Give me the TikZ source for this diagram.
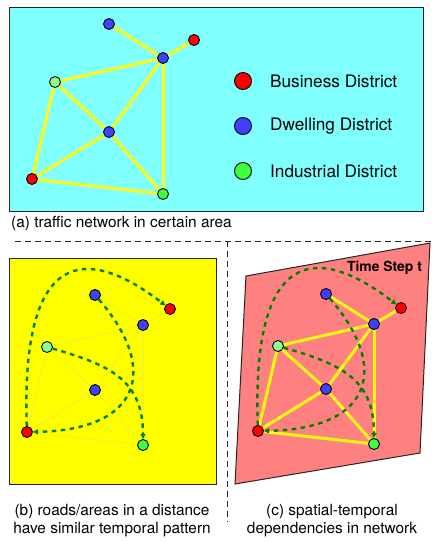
\documentclass[tikz,border=0pt]{standalone}
\usepackage{fontspec}
\setmainfont{TeX Gyre Heros}
\usetikzlibrary{arrows.meta}
\definecolor{busred}{RGB}{255,0,0}
\definecolor{dwellblue}{RGB}{64,64,255}
\definecolor{indgreen}{RGB}{64,255,64}
\definecolor{palegreen}{RGB}{140,255,140}
\definecolor{areacyan}{RGB}{128,255,255}
\definecolor{areayellow}{RGB}{255,255,0}
\definecolor{areapink}{RGB}{255,128,128}
\definecolor{roadyellow}{RGB}{255,248,20}
\definecolor{faintyellow}{RGB}{244,242,40}
\definecolor{depgreen}{RGB}{0,128,0}
\tikzset{
district/.style={circle, draw=black, line width=0.9pt, minimum size=11pt, inner sep=0pt}, % every district node
business/.style={district, fill=busred},
dwelling/.style={district, fill=dwellblue},
industrial/.style={district, fill=indgreen},
industrial2/.style={district, fill=palegreen},
keydot/.style={minimum size=17pt},
road/.style={draw=roadyellow, line width=3pt},
faintroad/.style={draw=faintyellow, line width=1.2pt},
depend/.style={draw=depgreen, line width=2.4pt, dash pattern=on 4.5pt off 4.5pt, -{Triangle[length=5pt,width=5pt]}},
panel/.style={draw=black!85, line width=1pt},
divider/.style={draw=black!85, line width=1pt, dash pattern=on 6pt off 4pt},
caption/.style={font=\fontsize{15.4}{18}\selectfont, inner sep=0pt},
keytext/.style={font=\fontsize{17.2}{20}\selectfont, inner sep=0pt, anchor=west},
}

\begin{document}
\begin{tikzpicture}[x=1pt, y=-1pt]
        \useasboundingbox (0,0) rectangle (434,542);
        % (a) traffic network
        \draw[panel, fill=areacyan] (9,7) rectangle (423,211);
        \node[dwelling]    (a_1) at (109,24)  {};
        \node[business]    (a_2) at (194,40)  {};
        \node[dwelling]    (a_3) at (163,58)  {};
        \node[industrial2] (a_4) at (55,82)   {};
        \node[dwelling]    (a_5) at (109,132) {};
        \node[business]    (a_6) at (32,179)  {};
        \node[industrial]  (a_7) at (163,194) {};
        \path[road]
        (a_1) edge (a_3)
        (a_2) edge (a_3)
        (a_3) edge (a_4)
        (a_3) edge (a_5)
        (a_3) edge (a_7)
        (a_4) edge (a_5)
        (a_4) edge (a_6)
        (a_5) edge (a_6)
        (a_5) edge (a_7)
        (a_6) edge (a_7);
        \node[business, keydot]   (key_1) at (243,81)  {};
        \node[dwelling, keydot]   (key_2) at (243,126) {};
        \node[industrial, keydot] (key_3) at (243,171) {};
        \node[keytext] (keytext_1) at (270,81)  {Business District};
        \node[keytext] (keytext_2) at (270,126) {Dwelling District};
        \node[keytext] (keytext_3) at (270,171) {Industrial District};
        \node[caption, anchor=west] (cap_a) at (11,223) {(a) traffic network in certain area};
        % dividers
        \draw[divider] (15,241) -- (434,241);
        \draw[divider] (227,241) -- (227,522);
        % (b) temporal pattern
        \draw[panel, fill=areayellow] (9,258) rectangle (216,484);
        \node[dwelling]    (b_1) at (95,295)  {};
        \node[business]    (b_2) at (170,309) {};
        \node[dwelling]    (b_3) at (143,325) {};
        \node[industrial2] (b_4) at (47,347)  {};
        \node[dwelling]    (b_5) at (95,390)  {};
        \node[business]    (b_6) at (27,432)  {};
        \node[industrial]  (b_7) at (143,445) {};
        \path[faintroad]
        (b_1) edge (b_3)
        (b_2) edge (b_3)
        (b_3) edge (b_4)
        (b_3) edge (b_5)
        (b_3) edge (b_7)
        (b_4) edge (b_5)
        (b_4) edge (b_6)
        (b_5) edge (b_6)
        (b_5) edge (b_7)
        (b_6) edge (b_7);
        \draw[depend] (b_6) .. controls (20,230) and (100,255) .. (b_2);
        \draw[depend] (b_1) .. controls (160,370) and (140,430) .. (b_6);
        \draw[depend] (b_4) .. controls (110,365) and (143,380) .. (b_7);
        \node[caption, align=center] (cap_b) at (112,521) {(b) roads/areas in a distance\\have similar temporal pattern};
        % (c) spatial-temporal dependencies
        \draw[panel, fill=areapink] (246,276) -- (430,243) -- (420,453) -- (235,484) -- cycle;
        \node[font=\bfseries\fontsize{13.9}{16}\selectfont, inner sep=0pt] (step_t) at (384.5,268) {Time Step t};
        \begin{scope}[shift={(231,-1)}]
        \node[dwelling]    (c_1) at (95,295)  {};
        \node[business]    (c_2) at (170,309) {};
        \node[dwelling]    (c_3) at (143,325) {};
        \node[industrial2] (c_4) at (47,347)  {};
        \node[dwelling]    (c_5) at (95,390)  {};
        \node[business]    (c_6) at (27,432)  {};
        \node[industrial]  (c_7) at (143,445) {};
        \path[road]
        (c_1) edge (c_3)
        (c_2) edge (c_3)
        (c_3) edge (c_4)
        (c_3) edge (c_5)
        (c_3) edge (c_7)
        (c_4) edge (c_5)
        (c_4) edge (c_6)
        (c_5) edge (c_6)
        (c_5) edge (c_7)
        (c_6) edge (c_7);
        \draw[depend] (c_6) .. controls (20,230) and (100,255) .. (c_2);
        \draw[depend] (c_1) .. controls (160,370) and (140,430) .. (c_6);
        \draw[depend] (c_4) .. controls (110,365) and (143,380) .. (c_7);
        \end{scope}
        \node[caption, align=center] (cap_c) at (332,521) {(c) spatial-temporal\\dependencies in network};
\end{tikzpicture}
\end{document}
